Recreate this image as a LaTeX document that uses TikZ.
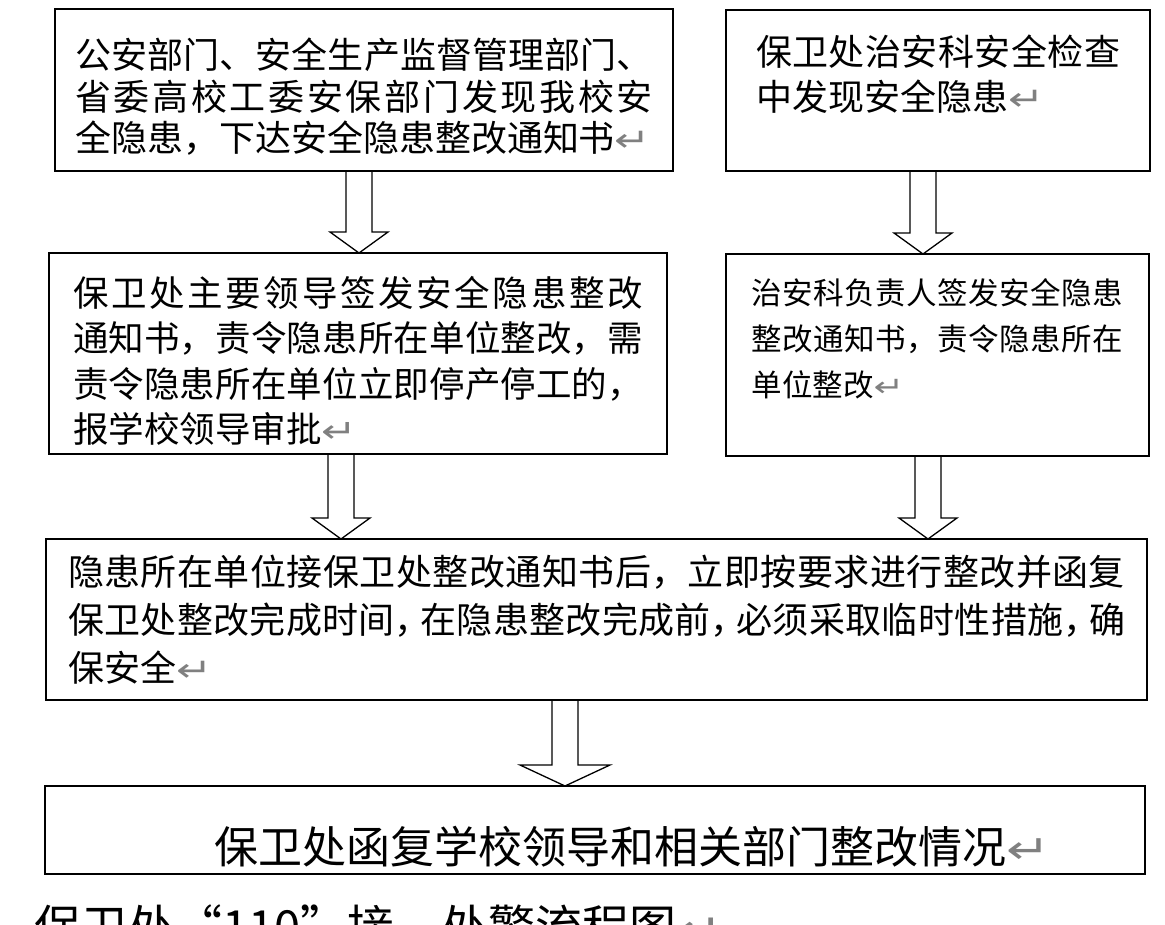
\documentclass[tikz,border=0pt]{standalone}
\usepackage{fontspec}
\setmainfont{Noto Sans CJK SC}
\newfontfamily\markfont{DejaVu Sans}
\usetikzlibrary{calc}

\XeTeXlinebreaklocale "zh"
\XeTeXlinebreakskip=0pt plus 10pt

\newcommand{\pmark}{{\color{gray}\markfont\scalebox{1.2}[0.9]{↵}}}
\newcommand{\hc}{\makebox[0.7em][l]{，}\hskip 0pt plus 10pt\relax}
\newcommand{\hollowarrow}[4]{%
\draw[arrowline] let \p1 = (#2.south), \p2 = (#3.north) in
  (#1pt-13pt,\y1) -- (#1pt-13pt,\y2+21pt) -- (#1pt-#4pt,\y2+21pt) -- (#1pt,\y2)
  -- (#1pt+#4pt,\y2+21pt) -- (#1pt+13pt,\y2+21pt) -- (#1pt+13pt,\y1);}

\begin{document}
\begin{tikzpicture}[x=1pt, y=-1pt,
  box/.style={draw, line width=2pt, anchor=north west, outer sep=0pt, inner ysep=0pt, align=justify},
  arrowline/.style={line width=1.3pt}]

\path[use as bounding box, fill=white] (0,0) rectangle (1165,925);
\clip (0,0) rectangle (1165,925);

\node[box, inner xsep=20pt, text width=578pt, text height=59.7pt, text depth=102.3pt,
  font=\fontsize{36pt}{41.5pt}\selectfont] (b1) at (55,9)
  {公安部门、安全生产监督管理部门、\linebreak 省委高校工委安保部门发现我校安\linebreak 全隐患，下达安全隐患整改通知书\pmark};

\node[box, inner xsep=30pt, text width=364pt, text height=55.7pt, text depth=105.3pt,
  font=\fontsize{36pt}{45pt}\selectfont] (b2) at (726,10)
  {保卫处治安科安全检查\linebreak 中发现安全隐患\pmark};

\node[box, inner xsep=24pt, text width=570pt, text height=53.5pt, text depth=147.5pt,
  font=\fontsize{35.5pt}{45.5pt}\selectfont] (b3) at (49,253)
  {保卫处主要领导签发安全隐患整改\linebreak 通知书，责令隐患所在单位整改，需\linebreak 责令隐患所在单位立即停产停工的，\linebreak 报学校领导审批\pmark};

\node[box, inner xsep=25.5pt, text width=372pt, text height=50.6pt, text depth=151.4pt,
  font=\fontsize{30.5pt}{46pt}\selectfont] (b4) at (726,254)
  {治安科负责人签发安全隐患\linebreak 整改通知书，责令隐患所在\linebreak 单位整改\pmark};

\node[box, inner xsep=22pt, text width=1057pt, text height=46.7pt, text depth=114.3pt,
  font=\fontsize{36pt}{48pt}\selectfont] (b5) at (46,539)
  {隐患所在单位接保卫处整改通知书后，立即按要求进行整改并函复\linebreak 保卫处整改完成时间\hc 在隐患整改完成前\hc 必须采取临时性措施\hc 确\linebreak 保安全\pmark};

\node[box, align=left, inner xsep=20pt, text width=1060pt, text height=77.7pt, text depth=10.3pt,
  font=\fontsize{44pt}{50pt}\selectfont] (b6) at (45,786)
  {\hspace*{3.4em}保卫处函复学校领导和相关部门整改情况\pmark};

\node[anchor=base west, inner sep=0pt, font=\fontsize{47pt}{56pt}\selectfont] (title) at (34,944)
  {保卫处“110”接、处警流程图\pmark};

\hollowarrow{359}{b1}{b3}{29}
\hollowarrow{923}{b2}{b4}{29}
\hollowarrow{341}{b3}{b5}{29}
\hollowarrow{928}{b4}{b5}{29}
\hollowarrow{565}{b5}{b6}{45}

\end{tikzpicture}
\end{document}
